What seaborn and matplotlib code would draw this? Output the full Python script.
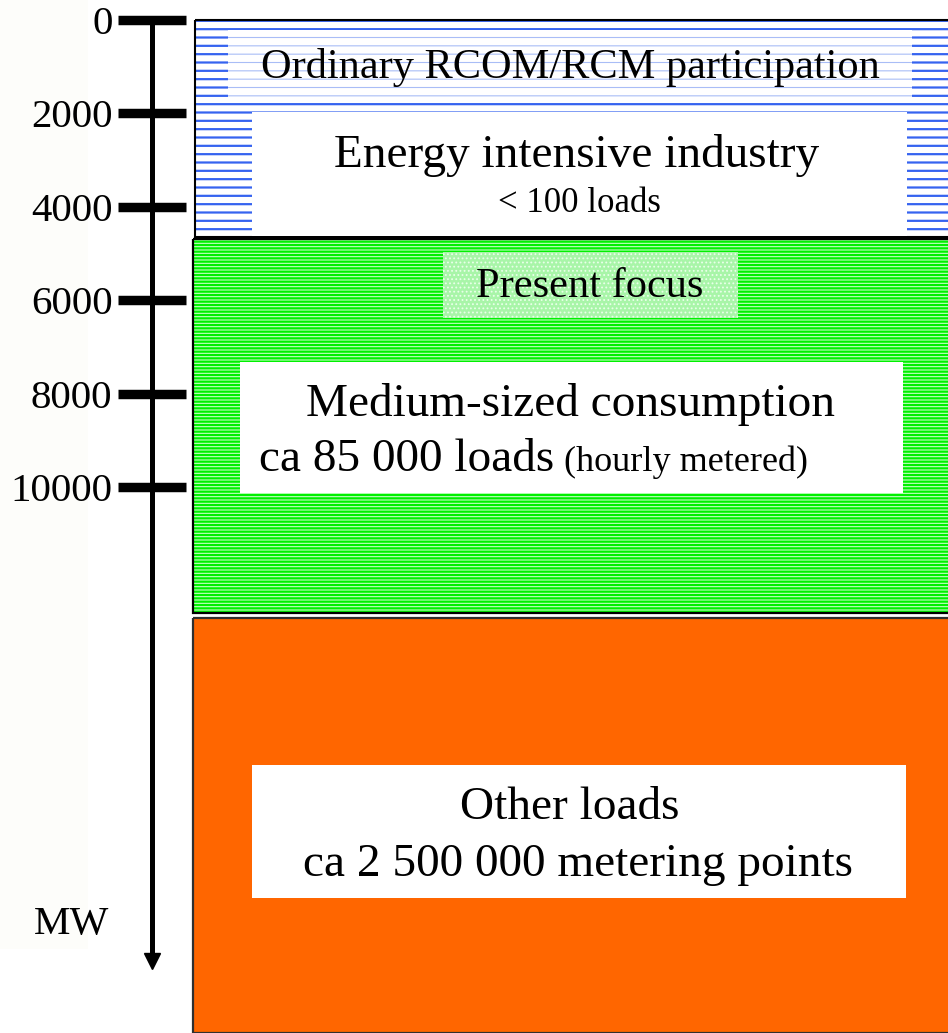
import matplotlib.pyplot as plt
import matplotlib.patches as mpatches
import seaborn as sns

# MW scale and the three consumer groups (MW ranges)
mw_ticks = [0, 2000, 4000, 6000, 8000, 10000]
mw_tick_labels = ["0", "2000", "4000", "6000", "8000", "10000"]
band_names = ["Energy intensive industry", "Medium-sized consumption", "Other loads"]
band_start = [0, 4700, 12800]
band_end = [4650, 12700, 21700]
band_notes = ["< 100 loads", "ca 85 000 loads", "ca 2 500 000 metering points"]

sns.set_theme(style="white")
plt.rcParams["font.family"] = ["Liberation Serif", "DejaVu Serif"]
plt.rcParams["text.color"] = "black"

fig = plt.figure(figsize=(9.48, 10.33), dpi=100)
ax = fig.add_axes([0, 0, 1, 1])
ax.set_xlim(0, 948)
ax.set_ylim(21692, -428)  # MW grows downward
ax.set_facecolor("white")


def box(x0, x1, y0, y1, face="white", hatch=None, hatch_color=None,
        hatch_lw=1.0, edge="none", lw=0.0, z=1):
    bar = ax.bar(x0, y1 - y0, bottom=y0, width=x1 - x0, align="edge",
                 color=face, edgecolor=hatch_color if hatch else edge,
                 linewidth=0, hatch=hatch, zorder=z)[0]
    if hatch and hasattr(bar, "set_hatch_linewidth"):
        bar.set_hatch_linewidth(hatch_lw)
    if lw > 0:
        ax.add_patch(mpatches.Rectangle((x0, y0), x1 - x0, y1 - y0, fill=False,
                                        edgecolor=edge, linewidth=lw, zorder=z + 0.1))
    return bar


# very faint tint on the far left
ax.add_patch(mpatches.Rectangle((0, -428), 88, 20330, color="#fdfdfa", lw=0, zorder=0))

# bands
plt.rcParams["hatch.linewidth"] = 1.5
box(195, 960, band_start[0], band_end[0], face="white", hatch="--",
    hatch_color="#3563f0", hatch_lw=1.6, edge="black", lw=1.5, z=1)
box(193, 960, band_start[1], band_end[1], face="#c6ffc6", hatch="-----",
    hatch_color="#00f000", hatch_lw=1.6, edge="black", lw=1.6, z=1)
box(193, 960, band_start[2], band_end[2], face="#ff6600", edge="#303030", lw=1.6, z=1)

# label boxes inside the bands
box(228, 912, 214, 1713, face="white", hatch="--", hatch_color="#a9bdf6",
    hatch_lw=0.8, z=2)
box(252, 907, 1970, band_end[0] - 30, face="white", z=2)
box(443, 738, 4968, 6381, face="#a8f5a8", hatch="....", hatch_color="#eaffea",
    hatch_lw=0.8, z=2)
box(240, 903, 7323, 10128, face="white", z=2)
box(252, 906, 15953, 18801, face="white", z=2)

txt = dict(ha="center", va="center", color="black", zorder=5)
ax.text(570, 1028, "Ordinary RCOM/RCM participation", fontsize=30.5, **txt)
ax.text(577, 2912, band_names[0], fontsize=34, **txt)
ax.text(579, 3940, band_notes[0], fontsize=25, **txt)
ax.text(590, 5717, "Present focus", fontsize=30.5, **txt)
ax.text(571, 8244, band_names[1], fontsize=34, **txt)
ax.text(554, 9422, band_notes[1], fontsize=34, ha="right", va="center",
        color="black", zorder=5)
ax.text(564, 9480, "(hourly metered)", fontsize=26, ha="left", va="center",
        color="black", zorder=5)
ax.text(570, 16874, band_names[2], fontsize=34, **txt)
ax.text(578, 18094, band_notes[2], fontsize=34, **txt)
ax.text(72, 19379, "MW", fontsize=29.5, **txt)

# MW axis: left spine moved to the arrow position
for side in ["top", "right", "bottom"]:
    ax.spines[side].set_visible(False)
ax.spines["left"].set_position(("data", 152))
ax.spines["left"].set_bounds(0, 20000)
ax.spines["left"].set_linewidth(3.6)
ax.spines["left"].set_color("black")
ax.set_xticks([])
ax.set_yticks(mw_ticks)
ax.set_yticklabels(mw_tick_labels)
ax.tick_params(axis="y", direction="inout", length=49, width=6.8, pad=4,
               labelsize=29.5, colors="black", left=True)
ax.plot([152], [20150], marker="v", markersize=11, color="black",
        clip_on=False, zorder=6)
ax.grid(False)

fig.savefig("out.png", dpi=100)
